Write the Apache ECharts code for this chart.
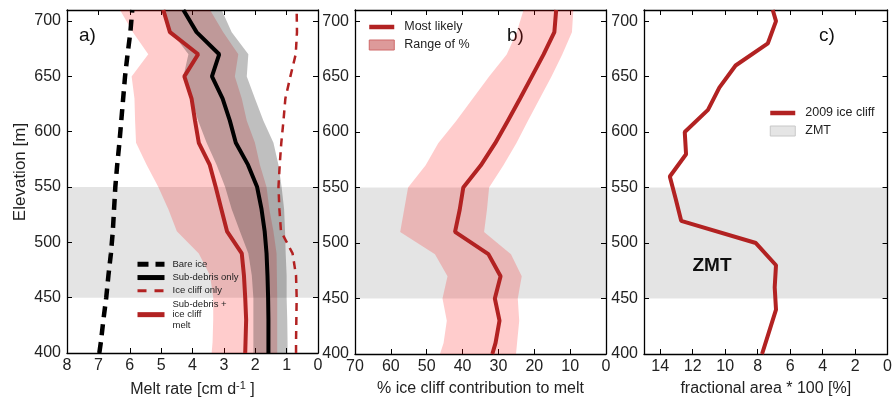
<!DOCTYPE html>
<html>
<head>
<meta charset="utf-8">
<script src="https://cdn.jsdelivr.net/npm/echarts@6/dist/echarts.min.js"></script>
<style>
	html, body { margin: 0; padding: 0; background: #fff; }
	#chart { width: 895px; height: 403px; }
</style>
</head>
<body>
<div id="chart"></div>
<script>
// elevation nodes (m) for panels a) and b)
var elevAB = [400, 410, 430, 450, 470, 490, 510, 530, 550, 570, 590, 610, 630, 650, 670, 690, 710];
// elevation nodes (m) for panel c)
var elevC = [400, 420, 440, 460, 480, 500, 520, 540, 560, 580, 600, 620, 640, 660, 680, 700, 710];

// a) melt rate [cm/d]
var bareIce = [6.97, 6.92, 6.84, 6.75, 6.68, 6.60, 6.54, 6.50, 6.46, 6.40, 6.33, 6.27, 6.21, 6.15, 6.07, 5.98, 5.92];
var subDebrisOnly = [1.58, 1.58, 1.58, 1.59, 1.61, 1.64, 1.70, 1.80, 1.94, 2.23, 2.62, 2.81, 3.04, 3.38, 3.15, 3.87, 4.29];
var iceCliffOnly = [0.70, 0.70, 0.69, 0.68, 0.70, 0.81, 1.18, 1.23, 1.26, 1.22, 1.17, 1.10, 1.04, 0.88, 0.71, 0.67, 0.68];
var debrisPlusCliff = [2.32, 2.31, 2.29, 2.32, 2.36, 2.43, 2.90, 3.08, 3.26, 3.45, 3.80, 3.92, 4.03, 4.26, 3.82, 4.72, 4.93];
// ranges
var combinedLow = [3.39, 3.36, 3.34, 3.34, 3.44, 3.80, 4.50, 4.77, 5.09, 5.46, 5.80, 5.83, 5.85, 5.94, 5.41, 5.90, 6.31];
var combinedHigh = [1.30, 1.30, 1.30, 1.30, 1.31, 1.32, 1.42, 1.55, 1.64, 1.85, 2.01, 2.27, 2.43, 2.65, 2.54, 3.02, 3.44];
var debrisLow = [2.06, 2.06, 2.06, 2.06, 2.11, 2.22, 2.49, 2.75, 2.96, 3.23, 3.55, 3.82, 4.03, 4.29, 4.13, 4.66, 4.98];
var debrisHigh = [0.97, 0.97, 0.98, 1.00, 1.00, 1.03, 1.05, 1.08, 1.16, 1.26, 1.42, 1.74, 2.01, 2.27, 2.22, 2.75, 3.07];

// b) % ice cliff contribution to melt
var mostLikely = [31.7, 30.8, 29.7, 31.0, 29.4, 32.8, 42.1, 40.8, 39.8, 34.9, 30.9, 27.4, 24.0, 20.7, 17.4, 14.4, 13.9];
var rangeLeft = [46.3, 45.3, 44.4, 45.6, 44.2, 47.7, 57.4, 56.3, 55.2, 50.3, 46.8, 41.8, 37.2, 32.6, 27.7, 24.9, 23.0];
var rangeRight = [25.1, 24.8, 24.2, 24.6, 23.5, 26.5, 34.0, 33.2, 32.6, 28.6, 25.0, 21.8, 18.5, 15.2, 12.2, 9.5, 9.1];

// c) fractional area * 100
var cliffArea2009 = [7.73, 7.30, 6.87, 6.95, 6.87, 8.11, 12.71, 13.05, 13.41, 12.41, 12.49, 11.06, 10.36, 9.36, 7.37, 6.87, 7.07];

// ZMT elevation band
var zmtBand = [450, 550];

var FONT = 'Liberation Sans, Arial, sans-serif';
var RED = '#b22222';

var chart = echarts.init(document.getElementById('chart'));

var grids = [
	{ left: 67, top: 10, width: 251, height: 344 },
	{ left: 355, top: 10, width: 251, height: 344 },
	{ left: 644, top: 10, width: 250, height: 344 }
];

var xAxes = [];
var yAxes = [];

/**
 * two x axes (bottom + top mirror) and two y axes (left + right mirror) per panel
 */
var addAxes = function (gi, xmax, xint, xname) {
	var line = { show: true, onZero: false, lineStyle: { color: '#000', width: 1.3 } };
	var tick = { show: true, inside: true, length: 5, lineStyle: { color: '#000', width: 1 } };
	xAxes.push({
		gridIndex: gi, type: 'value', position: 'bottom', min: 0, max: xmax, interval: xint, inverse: true,
		axisLine: line, axisTick: tick, splitLine: { show: false },
		axisLabel: {
			fontSize: 16, color: '#222', fontFamily: FONT, margin: 5,
			formatter: function (v) { return v % xint === 0 ? v : ''; }
		},
		name: xname, nameLocation: 'middle', nameGap: 27,
		nameTextStyle: {
			fontSize: 16, color: '#222', fontFamily: FONT,
			rich: { sup: { fontSize: 11, fontFamily: FONT, color: '#222', padding: [0, 0, 9, 0] } }
		}
	});
	xAxes.push({
		gridIndex: gi, type: 'value', position: 'top', min: 0, max: xmax, interval: xint, inverse: true,
		axisLine: line, axisTick: tick, splitLine: { show: false }, axisLabel: { show: false }
	});
	yAxes.push({
		gridIndex: gi, type: 'value', position: 'left', min: 400, max: 710, interval: 50,
		axisLine: line, axisTick: tick, splitLine: { show: false },
		axisLabel: {
			fontSize: 16, color: '#222', fontFamily: FONT, margin: 6,
			formatter: function (v) { return v % 50 === 0 ? v : ''; }
		}
	});
	yAxes.push({
		gridIndex: gi, type: 'value', position: 'right', min: 400, max: 710, interval: 50,
		axisLine: line, axisTick: tick, splitLine: { show: false }, axisLabel: { show: false }
	});
};

addAxes(0, 8, 1, 'Melt rate [cm d{sup|-1} ]');
addAxes(1, 70, 10, '% ice cliff contribution to melt');
addAxes(2, 15, 2, 'fractional area * 100 [%]');

var toPoints = function (vals, elev) {
	return elev.map(function (e, i) { return [vals[i], e]; });
};

var lineSeries = function (name, gi, vals, elev, color, width, type, z) {
	return {
		type: 'line', name: name, xAxisIndex: gi * 2, yAxisIndex: gi * 2,
		data: toPoints(vals, elev), symbol: 'none', z: z,
		itemStyle: { color: color },
		lineStyle: { color: color, width: width, type: type, cap: 'butt' }
	};
};

// filled range between two x profiles
var bandSeries = function (name, gi, low, high, elev, color, z) {
	return {
		type: 'custom', name: name, xAxisIndex: gi * 2, yAxisIndex: gi * 2, z: z,
		data: elev.map(function (e, i) { return [low[i], high[i], e]; }),
		encode: { x: [0, 1], y: 2 },
		itemStyle: { color: color },
		renderItem: function (params, api) {
			if (params.dataIndex !== 0) return;
			var pts = [];
			for (var i = 0; i < elev.length; i++) pts.push(api.coord([low[i], elev[i]]));
			for (var j = elev.length - 1; j >= 0; j--) pts.push(api.coord([high[j], elev[j]]));
			return { type: 'polygon', shape: { points: pts }, style: { fill: color } };
		}
	};
};

// grey ZMT band across a panel
var zmtSeries = function (gi) {
	return {
		type: 'custom', name: 'ZMT', xAxisIndex: gi * 2, yAxisIndex: gi * 2, z: 1,
		data: [[0, zmtBand[0], zmtBand[1]]],
		encode: { x: 0, y: [1, 2] },
		itemStyle: { color: '#e5e5e5' },
		renderItem: function (params, api) {
			var cs = params.coordSys;
			var yTop = api.coord([0, zmtBand[1]])[1];
			var yBot = api.coord([0, zmtBand[0]])[1];
			return {
				type: 'rect',
				shape: { x: cs.x, y: yTop, width: cs.width, height: yBot - yTop },
				style: { fill: 'rgba(0,0,0,0.105)' }
			};
		}
	};
};

var series = [
	zmtSeries(0), zmtSeries(1), zmtSeries(2),
	bandSeries('Combined range', 0, combinedLow, combinedHigh, elevAB, 'rgba(255,0,0,0.2)', 2),
	bandSeries('Sub-debris range', 0, debrisLow, debrisHigh, elevAB, 'rgba(0,0,0,0.25)', 3),
	lineSeries('Bare ice', 0, bareIce, elevAB, '#000', 4.5, [11, 7], 5),
	lineSeries('Sub-debris only', 0, subDebrisOnly, elevAB, '#000', 4, 'solid', 5),
	lineSeries('Ice cliff only', 0, iceCliffOnly, elevAB, RED, 2.5, [8, 6], 5),
	lineSeries('Sub-debris + ice cliff melt', 0, debrisPlusCliff, elevAB, RED, 4, 'solid', 5),
	bandSeries('Range of %', 1, rangeLeft, rangeRight, elevAB, 'rgba(255,0,0,0.2)', 2),
	lineSeries('Most likely', 1, mostLikely, elevAB, RED, 4, 'solid', 5),
	lineSeries('2009 ice cliff', 2, cliffArea2009, elevC, RED, 4, 'solid', 5)
];

var legendText = {
	'Sub-debris + ice cliff melt': 'Sub-debris +\nice cliff\nmelt'
};

// line entries: hide the legend symbol, keep the line
var noSymbol = { opacity: 0 };

var option = {
	animation: false,
	backgroundColor: '#fff',
	textStyle: { fontFamily: FONT },
	grid: grids,
	xAxis: xAxes,
	yAxis: yAxes,
	legend: [
		{
			left: 135, top: 259, orient: 'vertical', padding: 0, itemGap: 2.8,
			itemWidth: 27, itemHeight: 10, selectedMode: false,
			itemStyle: noSymbol,
			data: [
				{ name: 'Bare ice', lineStyle: { width: 5, type: [11, 7], cap: 'butt' } },
				{ name: 'Sub-debris only', lineStyle: { width: 5 } },
				{ name: 'Ice cliff only', lineStyle: { width: 3, type: [9, 8], cap: 'butt' } },
				{ name: 'Sub-debris + ice cliff melt', lineStyle: { width: 5 } }
			],
			formatter: function (name) { return legendText[name] || name; },
			textStyle: { fontSize: 9.5, color: '#222', fontFamily: FONT, lineHeight: 10.5, padding: [0, 0, 0, 3] }
		},
		{
			left: 367, top: 20, orient: 'vertical', padding: 0, itemGap: 4,
			itemWidth: 25, itemHeight: 10, selectedMode: false,
			itemStyle: noSymbol,
			data: [
				{ name: 'Most likely', lineStyle: { width: 4.5 } },
				{ name: 'Range of %', icon: 'rect', itemStyle: { color: '#dd9a9a', borderColor: '#cf6a6a', borderWidth: 1, opacity: 1 } }
			],
			textStyle: { fontSize: 12.5, color: '#222', fontFamily: FONT, lineHeight: 14, padding: [0, 0, 0, 5] }
		},
		{
			left: 768, top: 106, orient: 'vertical', padding: 0, itemGap: 4,
			itemWidth: 25, itemHeight: 10, selectedMode: false,
			itemStyle: noSymbol,
			data: [
				{ name: '2009 ice cliff', lineStyle: { width: 4.5 } },
				{ name: 'ZMT', icon: 'rect', itemStyle: { color: '#e5e5e5', borderColor: '#c8c8c8', borderWidth: 1, opacity: 1 } }
			],
			textStyle: { fontSize: 12.5, color: '#222', fontFamily: FONT, lineHeight: 14, padding: [0, 0, 0, 5] }
		}
	],
	graphic: [
		{
			type: 'text', x: 20, y: 172, rotation: Math.PI / 2,
			style: { text: 'Elevation [m]', font: '17px ' + FONT, fill: '#222', textAlign: 'center', textVerticalAlign: 'middle', align: 'center', verticalAlign: 'middle' }
		},
		{ type: 'text', x: 79, y: 36, style: { text: 'a)', font: '19px ' + FONT, fill: '#111', textVerticalAlign: 'middle', verticalAlign: 'middle' } },
		{ type: 'text', x: 507, y: 36, style: { text: 'b)', font: '19px ' + FONT, fill: '#111', textVerticalAlign: 'middle', verticalAlign: 'middle' } },
		{ type: 'text', x: 819, y: 36, style: { text: 'c)', font: '19px ' + FONT, fill: '#111', textVerticalAlign: 'middle', verticalAlign: 'middle' } },
		{ type: 'text', x: 712, y: 266, style: { text: 'ZMT', font: 'bold 19px ' + FONT, fill: '#111', textAlign: 'center', textVerticalAlign: 'middle', align: 'center', verticalAlign: 'middle' } }
	],
	series: series
};

chart.setOption(option);
</script>
</body>
</html>
